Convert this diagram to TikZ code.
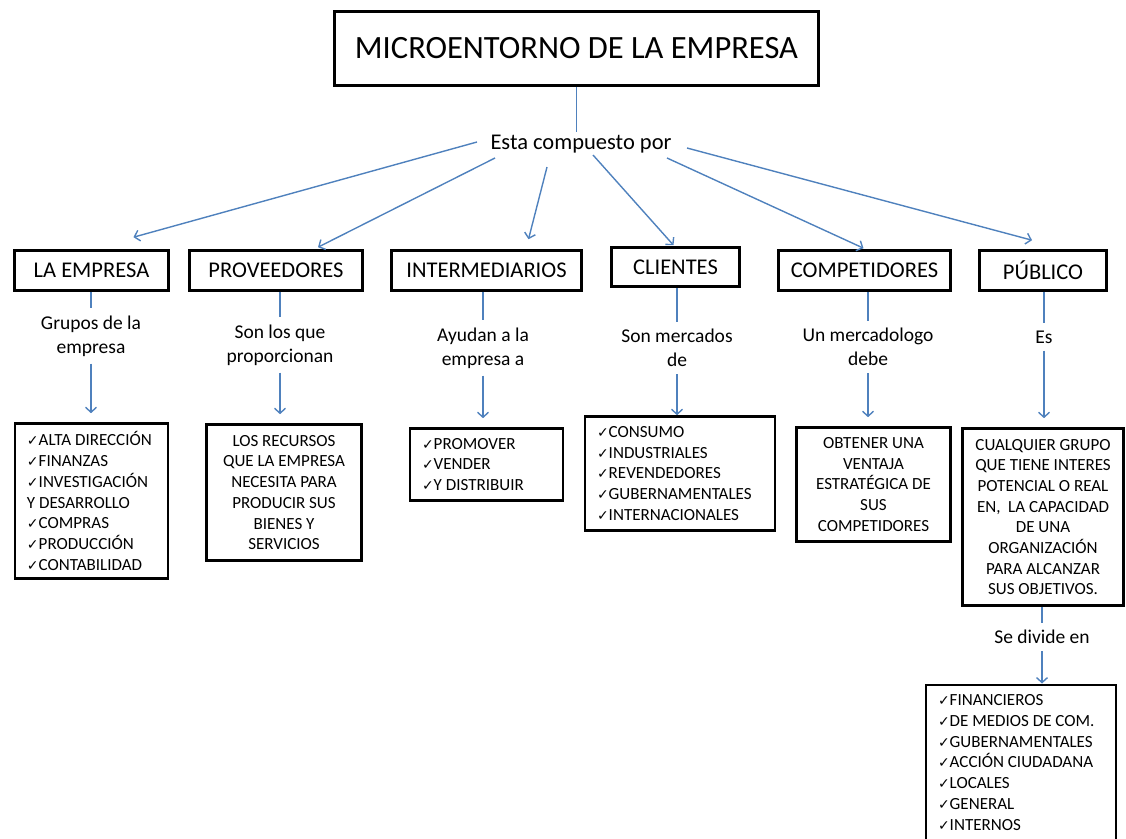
\documentclass[tikz,border=0pt]{standalone}
\usepackage{fontspec}
\setmainfont{Carlito}
\newfontfamily\chkfont{DejaVu Sans}
\usetikzlibrary{positioning}
\usetikzlibrary{arrows.meta}
\definecolor{azul}{RGB}{79,129,189}
\newcommand{\chk}{{\chkfont\fontsize{14}{14}\selectfont ✓}}

\begin{document}
\begin{tikzpicture}[x=1pt, y=-1pt,
        node/.style={draw, line width=2.6pt, align=center, inner sep=0pt, font=\fontsize{22.5}{27}\selectfont},
        lista/.style={draw, line width=2.6pt, align=flush left, inner xsep=12pt, inner ysep=0pt, font=\fontsize{17}{20.7}\selectfont},
        texto/.style={draw, line width=2.6pt, align=center, inner sep=0pt, font=\fontsize{17}{20.7}\selectfont},
        etiqueta/.style={align=center, inner sep=7pt, font=\fontsize{19.5}{24}\selectfont},
        linea/.style={azul, line width=1.4pt},
        arrow/.style={linea, -{Straight Barb[length=5pt, width=11pt]}, shorten >=9pt}
    ]
        \useasboundingbox (0,0) rectangle (1126,838);

        \node[node, minimum width=484, minimum height=74, font=\fontsize{32.5}{38}\selectfont] (t0) at (576.5,48.5) {MICROENTORNO DE LA EMPRESA};
        \node[inner sep=3pt, font=\fontsize{22.5}{27}\selectfont] (c0) at (581,144) {Esta compuesto por};

        \node[node, minimum width=154, minimum height=40] (n1) at (91.5,270.5) {LA EMPRESA};
        \node[node, minimum width=173, minimum height=40] (n2) at (276,270.5) {PROVEEDORES};
        \node[node, minimum width=190, minimum height=40] (n3) at (486.5,270.5) {INTERMEDIARIOS};
        \node[node, minimum width=128, minimum height=39] (n4) at (675.5,267) {CLIENTES};
        \node[node, minimum width=172, minimum height=40] (n5) at (864.5,270.5) {COMPETIDORES};
        \node[node, minimum width=127, minimum height=40] (n6) at (1043,270.5) {PÚBLICO};

        \node[etiqueta] (l1) at (91,336) {Grupos de la\\empresa};
        \node[etiqueta] (l2) at (280,345) {Son los que\\proporcionan};
        \node[etiqueta] (l3) at (483,348) {Ayudan a la\\empresa a};
        \node[etiqueta] (l4) at (677,348) {Son mercados\\de};
        \node[etiqueta] (l5) at (868,347) {Un mercadologo\\debe};
        \node[etiqueta] (l6) at (1044,337) {Es};

        \node[lista, text width=129, minimum height=155] (b1) at (91.5,501) {\chk ALTA DIRECCIÓN\\\chk FINANZAS\\\chk INVESTIGACIÓN\\Y DESARROLLO\\\chk COMPRAS\\\chk PRODUCCIÓN\\\chk CONTABILIDAD};
        \node[texto, minimum width=155, minimum height=136] (b2) at (284,492.5) {LOS RECURSOS\\QUE LA EMPRESA\\NECESITA PARA\\PRODUCIR SUS\\BIENES Y\\SERVICIOS};
        \node[lista, text width=129, minimum height=72] (b3) at (486.5,464.5) {\chk PROMOVER\\\chk VENDER\\\chk Y DISTRIBUIR};
        \node[lista, text width=166, minimum height=114] (b4) at (680,473.5) {\chk CONSUMO\\\chk INDUSTRIALES\\\chk REVENDEDORES\\\chk GUBERNAMENTALES\\\chk INTERNACIONALES};
        \node[texto, minimum width=154, minimum height=114] (b5) at (873.5,484.5) {OBTENER UNA\\VENTAJA\\ESTRATÉGICA DE\\SUS\\COMPETIDORES};
        \node[texto, minimum width=161, minimum height=177] (b6) at (1043,517) {CUALQUIER GRUPO\\QUE TIENE INTERES\\POTENCIAL O REAL\\EN,\ \ LA CAPACIDAD\\DE UNA\\ORGANIZACIÓN\\PARA ALCANZAR\\SUS OBJETIVOS.};

        \node[etiqueta] (l7) at (1042,637) {Se divide en};
        \node[lista, text width=166, inner ysep=10pt, anchor=north] (b7) at (1021,683.5) {\chk FINANCIEROS\\\chk DE MEDIOS DE COM.\\\chk GUBERNAMENTALES\\\chk ACCIÓN CIUDADANA\\\chk LOCALES\\\chk GENERAL\\\chk INTERNOS};

        \draw[linea] (t0) -- (t0 |- c0.north);
        \draw[arrow, shorten >=0pt] ([shift={(-104,-2)}]c0.center) -- ([shift={(42,-12)}]n1.north);
        \draw[arrow, shorten >=0pt] ([shift={(-86,14)}]c0.center) -- ([shift={(42,-2)}]n2.north);
        \draw[arrow, shorten >=0pt] ([shift={(-34,23)}]c0.center) -- ([shift={(42,-10)}]n3.north);
        \draw[arrow, shorten >=0pt] ([shift={(12,11)}]c0.center) -- ([shift={(-2,-1)}]n4.north);
        \draw[arrow, shorten >=0pt] ([shift={(86,14)}]c0.center) -- ([shift={(-1,-1)}]n5.north);
        \draw[arrow, shorten >=0pt] ([shift={(106,4)}]c0.center) -- ([shift={(-11,-9)}]n6.north);

        \draw[linea] (l1 |- n1.south) -- (l1.north);
        \draw[linea] (l2 |- n2.south) -- (l2.north);
        \draw[linea] (l3 |- n3.south) -- (l3.north);
        \draw[linea] (l4 |- n4.south) -- (l4.north);
        \draw[linea] (l5 |- n5.south) -- (l5.north);
        \draw[linea] (l6 |- n6.south) -- (l6.north);
        \draw[linea] (l7 |- b6.south) -- (l7.north);

        \draw[arrow] (l1.south) -- (l1 |- b1.north);
        \draw[arrow] (l2.south) -- (l2 |- b2.north);
        \draw[arrow] (l3.south) -- (l3 |- b3.north);
        \draw[arrow, shorten >=0pt] (l4.south) -- (l4 |- b4.north);
        \draw[arrow] (l5.south) -- (l5 |- b5.north);
        \draw[arrow] (l6.south) -- (l6 |- b6.north);
        \draw[arrow, shorten >=0pt] (l7.south) -- (l7 |- b7.north);
    \end{tikzpicture}
\end{document}
